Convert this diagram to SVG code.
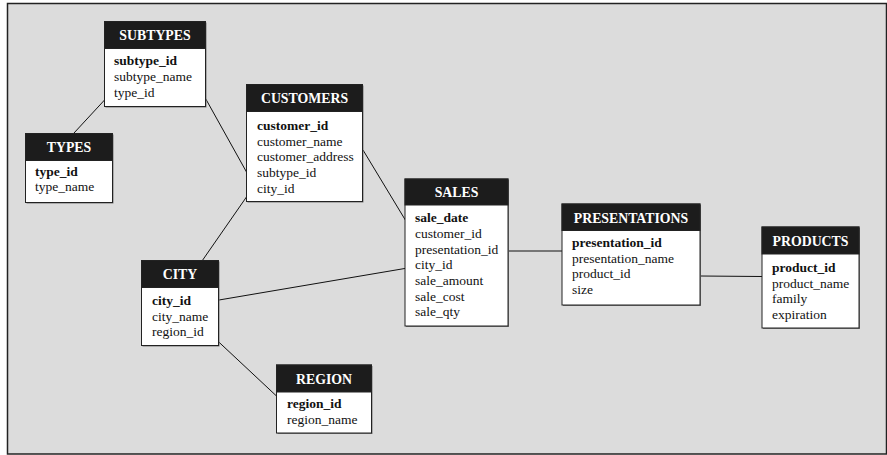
<svg xmlns="http://www.w3.org/2000/svg" width="887" height="455" viewBox="0 0 887 455">
<style>
.frame{fill:#dcdcdc;stroke:#222;stroke-width:1.5}
.shadow{fill:#777}
.body{fill:#fff;stroke:#222;stroke-width:1}
.head{fill:#1c1c1c;stroke:#222;stroke-width:1}
.ht{font-family:"Liberation Serif","Times New Roman",serif;font-size:13.8px;font-weight:bold;fill:#fff;text-anchor:middle}
.t{font-family:"Liberation Serif","Times New Roman",serif;font-size:13.5px;fill:#111}
.k{font-weight:bold}
.c{stroke:#111;stroke-width:1;fill:none}
</style>
<rect x="0" y="0" width="887" height="455" fill="#fff"/>
<rect class="frame" x="7.5" y="3.5" width="879" height="450.5"/>
<g id="connectors">
<line class="c" x1="74" y1="133" x2="111" y2="93"/>
<line class="c" x1="193" y1="76" x2="246.5" y2="172"/>
<line class="c" x1="202" y1="261" x2="252" y2="189"/>
<line class="c" x1="363" y1="150" x2="415" y2="236"/>
<line class="c" x1="219" y1="300" x2="416.5" y2="266.5"/>
<line class="c" x1="207" y1="331" x2="276.5" y2="396"/>
<line class="c" x1="503" y1="251" x2="562" y2="251"/>
<line class="c" x1="639" y1="275.5" x2="762" y2="276.5"/>
</g>
<g id="subtypes">
<rect class="shadow" x="105.5" y="22.5" width="101" height="85"/>
<rect class="body" x="104.5" y="21.5" width="101" height="85"/>
<rect class="head" x="104.5" y="21.5" width="101" height="27"/>
<text class="ht" x="155" y="40">SUBTYPES</text>
<text class="t k" x="114" y="65">subtype_id</text>
<text class="t" x="114" y="81">subtype_name</text>
<text class="t" x="114" y="97">type_id</text>
</g>
<g id="types">
<rect class="shadow" x="26.5" y="134.5" width="87" height="69"/>
<rect class="body" x="25.5" y="133.5" width="87" height="69"/>
<rect class="head" x="25.5" y="133.5" width="87" height="27"/>
<text class="ht" x="69" y="152">TYPES</text>
<text class="t k" x="35" y="176">type_id</text>
<text class="t" x="35" y="191">type_name</text>
</g>
<g id="customers">
<rect class="shadow" x="247.5" y="85.5" width="116" height="117"/>
<rect class="body" x="246.5" y="84.5" width="116" height="117"/>
<rect class="head" x="246.5" y="84.5" width="116" height="27"/>
<text class="ht" x="304.5" y="103">CUSTOMERS</text>
<text class="t k" x="257" y="130">customer_id</text>
<text class="t" x="257" y="145.5">customer_name</text>
<text class="t" x="257" y="161">customer_address</text>
<text class="t" x="257" y="177">subtype_id</text>
<text class="t" x="257" y="193">city_id</text>
</g>
<g id="city">
<rect class="shadow" x="142.5" y="261.5" width="77" height="85"/>
<rect class="body" x="141.5" y="260.5" width="77" height="85"/>
<rect class="head" x="141.5" y="260.5" width="77" height="27"/>
<text class="ht" x="180" y="279">CITY</text>
<text class="t k" x="152" y="305">city_id</text>
<text class="t" x="152" y="320.5">city_name</text>
<text class="t" x="152" y="336">region_id</text>
</g>
<g id="region">
<rect class="shadow" x="277.5" y="366" width="95" height="68"/>
<rect class="body" x="276.5" y="365" width="95" height="68"/>
<rect class="head" x="276.5" y="365" width="95" height="27"/>
<text class="ht" x="324" y="383.5">REGION</text>
<text class="t k" x="287" y="408">region_id</text>
<text class="t" x="287" y="423.5">region_name</text>
</g>
<g id="sales">
<rect class="shadow" x="406" y="180" width="103" height="147"/>
<rect class="body" x="405" y="179" width="103" height="147"/>
<rect class="head" x="405" y="179" width="103" height="26"/>
<text class="ht" x="456.5" y="197">SALES</text>
<text class="t k" x="415" y="222">sale_date</text>
<text class="t" x="415" y="238">customer_id</text>
<text class="t" x="415" y="253.5">presentation_id</text>
<text class="t" x="415" y="269">city_id</text>
<text class="t" x="415" y="285">sale_amount</text>
<text class="t" x="415" y="300.5">sale_cost</text>
<text class="t" x="415" y="316">sale_qty</text>
</g>
<g id="presentations">
<rect class="shadow" x="563" y="205" width="138" height="101"/>
<rect class="body" x="562" y="204" width="138" height="101"/>
<rect class="head" x="562" y="204" width="138" height="26.5"/>
<text class="ht" x="631" y="222.5">PRESENTATIONS</text>
<text class="t k" x="572" y="247">presentation_id</text>
<text class="t" x="572" y="262.5">presentation_name</text>
<text class="t" x="572" y="278">product_id</text>
<text class="t" x="572" y="294">size</text>
</g>
<g id="products">
<rect class="shadow" x="763" y="228" width="97" height="101"/>
<rect class="body" x="762" y="227" width="97" height="101"/>
<rect class="head" x="762" y="227" width="97" height="27"/>
<text class="ht" x="810.5" y="245.5">PRODUCTS</text>
<text class="t k" x="772" y="272">product_id</text>
<text class="t" x="772" y="287.5">product_name</text>
<text class="t" x="772" y="303">family</text>
<text class="t" x="772" y="319">expiration</text>
</g>
</svg>
